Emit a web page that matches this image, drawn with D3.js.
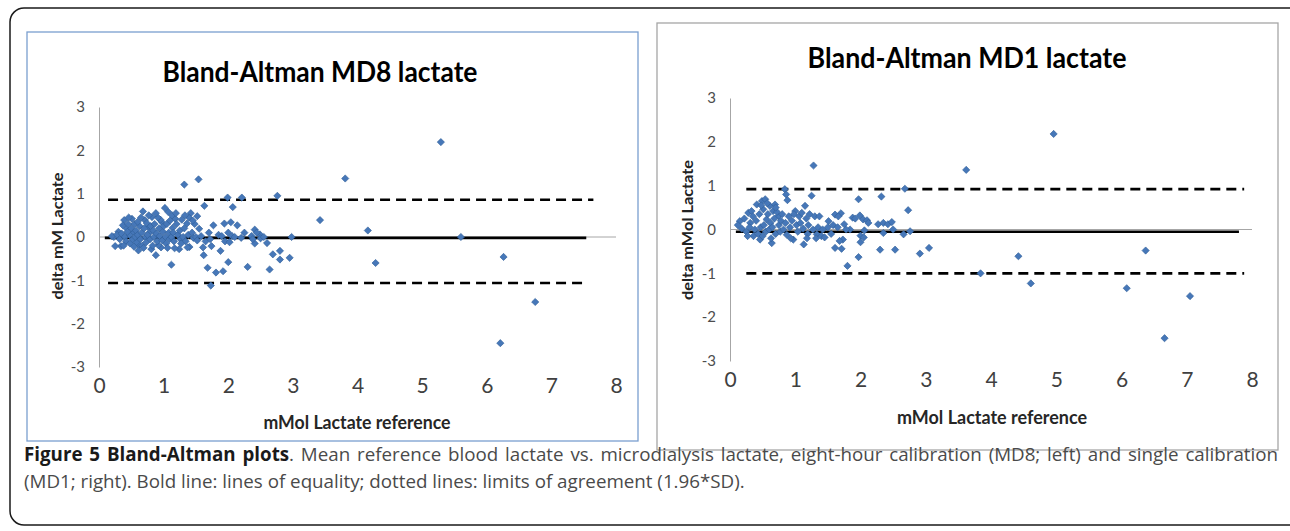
<!DOCTYPE html>
<html><head><meta charset="utf-8">
<script src="https://cdn.jsdelivr.net/npm/d3@7"></script>
<style>
html,body{margin:0;padding:0;background:#fff;}
svg{display:block;}
</style></head>
<body>
<svg id="chart" width="1290" height="531"></svg>
<script>
// ---------- data ----------
const xTicks = [0,1,2,3,4,5,6,7,8];
const yTicks = [-3,-2,-1,0,1,2,3];

// MD8 (left)
const md8Ref = [5.29,3.81,3.42,4.16,4.28,5.60,6.26,6.75,6.21,
 2.98,2.95,2.76,2.80,2.80,2.69,2.64,2.60,2.49,2.41,2.41,2.44,2.30,2.36,2.38,
 2.21,1.99,2.07,2.14,2.04,1.94,2.00,2.06,1.95,2.02,2.00,1.92,1.81,1.88,1.77,1.74,1.73,1.68,1.61,1.62,1.63,1.55,1.54,1.32,
 1.42,1.40,1.37,1.36,1.24,1.17,1.18,1.14,1.12,1.07,1.02,0.97,0.96,0.92,0.88,0.82,0.76,0.71,0.68,0.62,0.61,0.58,0.53,0.51,0.43,0.39,0.37,0.34,0.30,0.25,0.23,
 0.20,0.28,0.32,0.35,0.40,0.42,0.45,0.47,0.48,0.50,0.52,0.55,0.56,0.57,0.60,0.63,0.64,0.66,0.67,0.70,0.72,0.73,0.74,0.78,0.79,0.80,0.81,0.84,0.85,0.86,0.89,0.90,0.93,0.94,0.95,0.98,0.99,1.00,1.03,1.04,1.05,1.08,1.09,1.10,1.12,1.15,1.16,1.20,1.22,1.25,1.26,1.28,1.30,1.32,1.34,1.38,1.39,1.44,1.46,1.48,1.50,1.52,1.58,1.65,1.70,1.72,1.85,1.90,2.10,2.20,2.25,2.50,2.55,
 0.38,0.44,0.54,0.65,0.69,0.75,0.83,0.91,1.06,1.13,1.27,1.33,0.46,0.60,0.77,0.88,1.19,1.45,1.52];
const md8Delta = [2.19,1.35,0.39,0.15,-0.60,0.00,-0.46,-1.50,-2.45,
 0.00,-0.48,0.95,-0.32,-0.52,-0.40,-0.75,-0.14,0.06,0.17,-0.15,0.10,-0.69,0.02,-0.05,
 0.91,0.91,0.69,0.27,0.34,0.31,0.10,0.02,-0.10,-0.12,-0.58,-0.79,-0.82,-0.32,0.27,-0.21,-1.12,-0.71,-0.24,-0.42,0.72,0.19,1.33,1.21,
 0.55,-0.23,-0.24,0.31,-0.28,-0.26,0.42,0.21,-0.64,0.58,0.67,0.35,-0.24,-0.19,-0.42,0.46,0.23,0.39,0.59,-0.19,-0.31,-0.12,0.12,0.42,0.19,0.39,0.27,-0.21,0.12,-0.21,0.00,
 0.02,0.05,-0.05,0.08,0.00,-0.10,0.30,0.05,-0.15,0.20,-0.05,0.30,0.00,0.15,0.05,0.25,-0.05,0.10,-0.20,0.20,0.00,-0.12,0.32,0.10,-0.05,0.25,-0.28,0.15,0.00,0.30,0.08,-0.10,0.20,0.02,0.40,-0.08,0.12,0.25,0.00,-0.15,0.30,0.10,-0.05,0.38,0.00,0.10,-0.10,0.30,0.05,0.15,-0.05,0.40,0.00,0.20,-0.10,0.05,0.45,0.10,-0.02,0.30,0.00,-0.08,0.02,-0.10,0.10,-0.05,0.05,0.02,0.00,-0.02,0.10,-0.03,0.00,
 -0.20,0.12,-0.22,0.45,-0.25,0.05,-0.20,0.45,-0.25,0.50,-0.15,0.50,0.45,0.35,0.50,0.55,0.55,0.38,0.48];
const md8Bias = -0.02, md8Upper = 0.86, md8Lower = -1.06;

// MD1 (right)
const md1Ref = [1.28,3.62,4.96,3.84,4.42,4.61,6.08,6.37,6.66,7.05,
 1.97,2.32,2.68,2.73,1.61,1.70,1.88,1.99,2.04,2.10,2.12,1.84,2.06,2.27,2.35,2.42,2.48,2.50,2.35,2.66,2.76,2.00,2.05,1.73,1.68,2.00,1.61,1.71,2.30,2.53,2.91,3.05,1.97,1.80,
 0.15,0.28,0.33,0.31,0.36,0.41,0.46,0.49,0.51,0.54,0.56,0.61,0.64,0.66,0.69,0.74,0.84,0.86,0.88,0.97,1.00,1.13,1.15,1.25,1.33,1.51,
 0.12,0.18,0.22,0.25,0.30,0.35,0.38,0.40,0.43,0.45,0.47,0.50,0.52,0.55,0.58,0.60,0.62,0.63,0.65,0.68,0.70,0.72,0.75,0.77,0.78,0.80,0.82,0.85,0.87,0.90,0.92,0.95,0.98,1.02,1.04,1.06,1.08,1.10,1.12,1.17,1.19,1.20,1.22,1.27,1.30,1.32,1.35,1.37,1.40,1.42,1.45,1.50,1.55,1.58,1.65,1.66,1.75,1.78,1.92,0.57,0.48,0.70,0.27,0.93,1.18];
const md1Delta = [1.46,1.36,2.18,-1.00,-0.61,-1.23,-1.34,-0.48,-2.48,-1.52,
 0.69,0.75,0.93,0.44,0.34,0.37,0.27,0.32,0.23,0.21,0.15,0.00,-0.02,0.12,0.15,0.12,0.17,0.00,-0.08,-0.11,-0.04,-0.14,-0.18,-0.23,-0.26,-0.29,-0.42,-0.44,-0.46,-0.46,-0.55,-0.42,-0.63,-0.83,
 0.19,0.38,0.42,0.15,-0.15,0.57,-0.23,0.65,0.46,0.69,0.23,0.54,-0.31,0.42,0.57,0.31,0.92,0.80,0.67,-0.23,0.42,-0.34,0.54,0.77,-0.11,0.19,
 0.10,0.02,0.25,-0.05,0.05,0.30,0.00,0.20,-0.10,0.35,0.05,-0.15,0.10,-0.05,0.35,0.00,0.15,-0.20,0.05,0.25,-0.10,0.40,0.10,-0.05,0.20,0.35,0.00,0.15,-0.12,0.30,0.05,0.20,0.35,0.10,-0.05,0.30,0.15,0.38,0.02,0.25,-0.10,0.10,0.35,0.00,0.30,-0.20,0.05,0.30,-0.15,0.00,-0.18,0.05,-0.10,0.10,0.05,0.30,0.12,0.00,0.25,0.60,0.55,0.50,-0.15,-0.20,-0.20];
const md1Bias = -0.05, md1Upper = 0.92, md1Lower = -1.00;

// ---------- drawing ----------
const svg = d3.select("#chart");
const FONT = "Lato,'Open Sans',sans-serif";
const CAPFONT = "'Open Sans','Noto Sans',sans-serif";

// outer rounded frame
svg.append("rect").attr("x",10).attr("y",8).attr("width",1310).attr("height",517)
  .attr("rx",14).attr("fill","none").attr("stroke","#1a1a1a").attr("stroke-width",1.5);

function panel(cfg){
  const g = svg.append("g");
  g.append("rect").attr("x",cfg.box[0]).attr("y",cfg.box[1])
    .attr("width",cfg.box[2]-cfg.box[0]).attr("height",cfg.box[3]-cfg.box[1])
    .attr("fill","#fff").attr("stroke",cfg.boxColor).attr("stroke-width",1.3);

  const x = d3.scaleLinear().domain([0,8]).range(cfg.xr);
  const y = d3.scaleLinear().domain([-3,3]).range(cfg.yr);

  // y axis
  const ya = g.append("g").attr("transform",`translate(${x(0)},0)`)
    .call(d3.axisLeft(y).tickValues(yTicks).tickSize(0).tickPadding(14).tickFormat(d=>String(d)));
  ya.select(".domain").attr("stroke","#a6a6a6").attr("stroke-width",1);
  ya.selectAll("text").attr("font-family",FONT).attr("font-size",15).attr("fill","#4d4d4d");

  // x tick labels (bottom)
  const xa = g.append("g").attr("transform",`translate(0,${y(-3)})`)
    .call(d3.axisBottom(x).tickValues(xTicks).tickSize(0).tickPadding(11).tickFormat(d=>String(d)));
  xa.select(".domain").remove();
  xa.selectAll("text").attr("font-family",FONT).attr("font-size",21).attr("fill","#404040");

  // zero gray axis line
  g.append("line").attr("x1",x(0)).attr("x2",x(8)).attr("y1",y(0)).attr("y2",y(0))
    .attr("stroke","#a6a6a6").attr("stroke-width",1);

  // bias line
  g.append("line").attr("x1",x(cfg.biasX[0])).attr("x2",x(cfg.biasX[1]))
    .attr("y1",y(cfg.bias)).attr("y2",y(cfg.bias))
    .attr("stroke","#000").attr("stroke-width",2.6);
  // limits
  [[cfg.upper,cfg.upX],[cfg.lower,cfg.loX]].forEach(([v,ext])=>{
    g.append("line").attr("x1",x(ext[0])).attr("x2",x(ext[1]))
      .attr("y1",y(v)).attr("y2",y(v))
      .attr("stroke","#000").attr("stroke-width",2.6).attr("stroke-dasharray","10,6");
  });

  // points
  const sym = d3.symbol().type(d3.symbolSquare).size(26);
  g.append("g").selectAll("path").data(cfg.xs.map((v,i)=>[v,cfg.ys[i]])).join("path")
    .attr("d",sym)
    .attr("transform",d=>`translate(${x(d[0])},${y(d[1])}) rotate(45)`)
    .attr("fill","#4677b8").attr("stroke","#2f5f9a").attr("stroke-width",0.6);

  // titles
  g.append("text").attr("x",cfg.title[0]).attr("y",cfg.title[1]).attr("text-anchor","middle")
    .attr("font-family",FONT).attr("font-weight","bold").attr("font-size",28)
    .attr("textLength",cfg.title[2]).attr("lengthAdjust","spacingAndGlyphs")
    .attr("fill","#000").text(cfg.titleText);
  g.append("text").attr("transform",`translate(${cfg.ytitle[0]},${cfg.ytitle[1]}) rotate(-90)`)
    .attr("text-anchor","middle").attr("dy","0.35em")
    .attr("font-family",FONT).attr("font-weight","bold").attr("font-size",15)
    .attr("textLength",cfg.ytitle[2]).attr("lengthAdjust","spacingAndGlyphs")
    .attr("fill","#222").text(cfg.ytitleText);
  g.append("text").attr("x",cfg.xtitle[0]).attr("y",cfg.xtitle[1]).attr("text-anchor","middle")
    .attr("dy","0.35em")
    .attr("font-family",FONT).attr("font-weight","bold").attr("font-size",19)
    .attr("textLength",cfg.xtitle[2]).attr("lengthAdjust","spacingAndGlyphs")
    .attr("fill","#262626").text("mMol Lactate reference");
}

panel({box:[27,32,638,441], boxColor:"#7a9fcf",
  xr:[99,616], yr:[367,107], xs:md8Ref, ys:md8Delta,
  bias:md8Bias, upper:md8Upper, lower:md8Lower,
  biasX:[0.09,7.54], upX:[0.14,7.65], loX:[0.14,7.48],
  title:[320,82,315], titleText:"Bland-Altman MD8 lactate",
  ytitle:[58,236,127], ytitleText:"delta mM Lactate",
  xtitle:[357,422,187]});

panel({box:[657,23,1278,450], boxColor:"#a6a6a6",
  xr:[730,1252], yr:[361,98], xs:md1Ref, ys:md1Delta,
  bias:md1Bias, upper:md1Upper, lower:md1Lower,
  biasX:[0.09,7.8], upX:[0.25,7.88], loX:[0.25,7.88],
  title:[967,68,319], titleText:"Bland-Altman MD1 lactate",
  ytitle:[688,230,140], ytitleText:"delta mMol Lactate",
  xtitle:[992,417,190]});

// caption: size from line 2 width, justify line 1 by word spacing
const cap2 = svg.append("text").attr("x",24).attr("y",488)
  .attr("font-family",CAPFONT).attr("font-size",16).attr("fill","#4a4a4a")
  .text("(MD1; right). Bold line: lines of equality; dotted lines: limits of agreement (1.96*SD).");
const w2 = cap2.node().getComputedTextLength();
const capSize = 16*721/w2;
cap2.attr("font-size",capSize);
const cap1 = svg.append("text").attr("x",24).attr("y",461)
  .attr("font-family",CAPFONT).attr("font-size",capSize).attr("fill","#4a4a4a");
cap1.append("tspan").attr("font-weight","bold").attr("fill","#1a1a1a").text("Figure 5 Bland-Altman plots");
cap1.append("tspan").text(". Mean reference blood lactate vs. microdialysis lactate, eight-hour calibration (MD8; left) and single calibration");
const w1 = cap1.node().getComputedTextLength();
const nSpaces = (cap1.text().match(/ /g)||[]).length;
cap1.attr("word-spacing",(1254-w1)/nSpaces);
</script>
</body></html>
